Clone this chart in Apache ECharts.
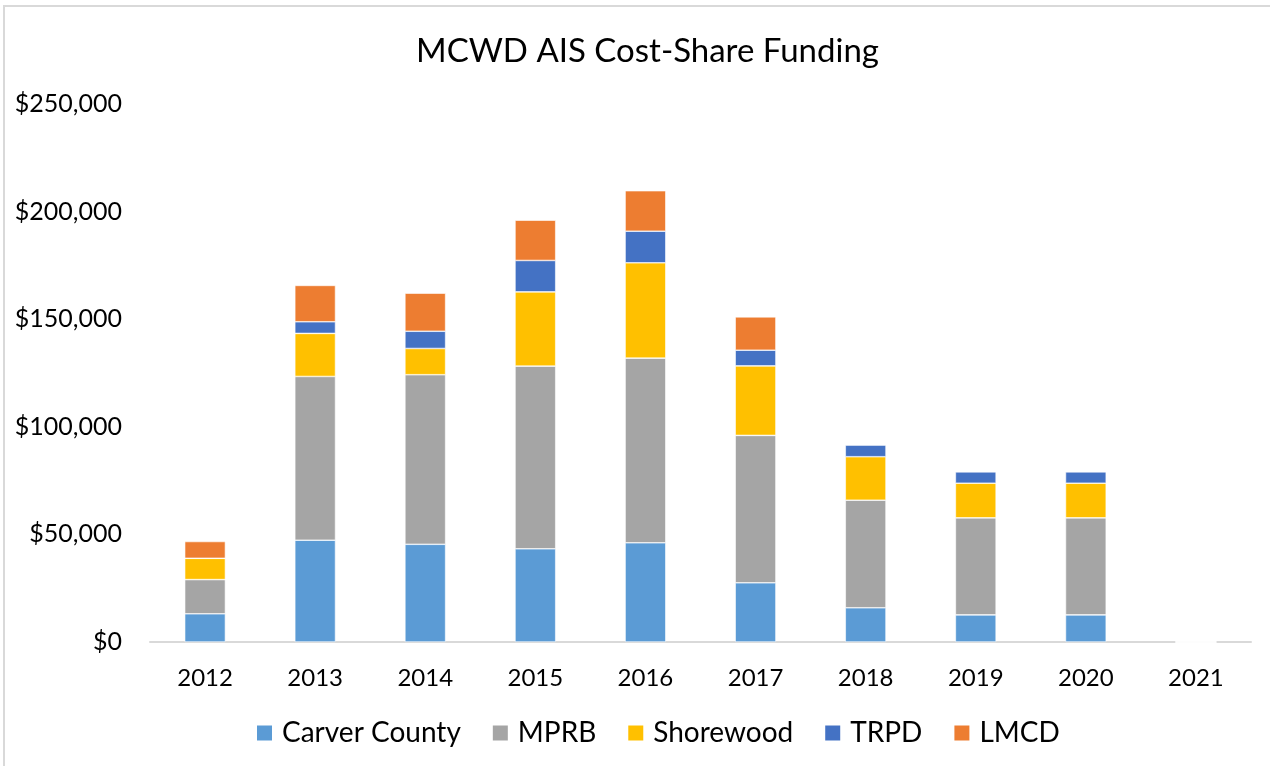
<!DOCTYPE html>
<html>
<head>
<meta charset="utf-8">
<script src="https://cdn.jsdelivr.net/npm/echarts@6/dist/echarts.min.js"></script>
<style>
  html, body { margin: 0; padding: 0; background: #fff; }
  .frame {
    position: absolute;
    left: 3px;
    top: 5px;
    width: 1280px;
    height: 780px;
    border-left: 2px solid #d9d9d9;
    border-top: 2px solid #d9d9d9;
  }
  #chart { position: absolute; left: 0; top: 0; width: 1270px; height: 766px; }
</style>
</head>
<body>
<div class="frame"></div>
<div id="chart"></div>
<script>
// years on the x axis
var years = ['2012', '2013', '2014', '2015', '2016', '2017', '2018', '2019', '2020', '2021']
// funding by partner, dollars
var carverCounty = [13100, 47300, 45400, 43300, 46100, 27500, 15900, 12600, 12600, 0]
var mprb = [15900, 76100, 78800, 84900, 85800, 68500, 50000, 45100, 45100, 0]
var shorewood = [9900, 20000, 12200, 34500, 44300, 32300, 20200, 16100, 16100, 0]
var trpd = [0, 5400, 8000, 14600, 14700, 7300, 5500, 5300, 5300, 0]
var lmcd = [7800, 16900, 17700, 18700, 18800, 15500, 0, 0, 0, 0]
var yTicks = [0, 50000, 100000, 150000, 200000, 250000]

var font = 'Lato, "Open Sans", sans-serif'
var chart = echarts.init(document.getElementById('chart'))

function money (v) {
  return '$' + v.toLocaleString('en-US')
}

function bar (name, data, color) {
  return {
    name: name,
    type: 'bar',
    stack: 'total',
    barWidth: '37%',
    data: data,
    itemStyle: { color: color, borderColor: '#ffffff', borderWidth: 0.6 }
  }
}

chart.setOption({
  animation: false,
  title: {
    text: 'MCWD AIS Cost-Share Funding',
    left: 411,
    top: 30,
    textStyle: { fontFamily: font, fontSize: 33, fontWeight: 'normal', color: '#000' }
  },
  grid: { left: 150, right: 19, top: 104, bottom: 124 },
  legend: {
    bottom: 14,
    left: 250,
    itemWidth: 17,
    itemHeight: 17,
    itemGap: 30,
    icon: 'rect',
    textStyle: { fontFamily: font, fontSize: 28, color: '#000', padding: [0, 0, 0, 4] },
    data: ['Carver County', 'MPRB', 'Shorewood', 'TRPD', 'LMCD']
  },
  xAxis: {
    type: 'category',
    data: years,
    axisLine: { lineStyle: { color: '#d9d9d9', width: 2 } },
    axisTick: { show: false },
    axisLabel: { fontFamily: font, fontSize: 24, color: '#000', margin: 24 }
  },
  yAxis: {
    type: 'value',
    min: yTicks[0],
    max: yTicks[yTicks.length - 1],
    interval: 50000,
    splitLine: { show: false },
    axisLine: { show: false },
    axisTick: { show: false },
    axisLabel: { fontFamily: font, fontSize: 25, color: '#000', margin: 28, formatter: money }
  },
  series: [
    bar('Carver County', carverCounty, '#5b9bd5'),
    bar('MPRB', mprb, '#a5a5a5'),
    bar('Shorewood', shorewood, '#ffc000'),
    bar('TRPD', trpd, '#4472c4'),
    bar('LMCD', lmcd, '#ed7d31')
  ]
})
</script>
</body>
</html>
